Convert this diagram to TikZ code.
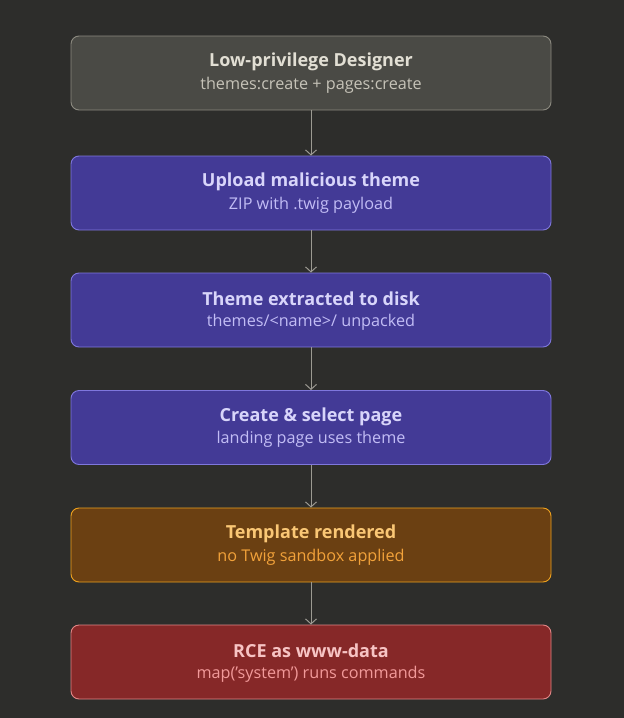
\documentclass[tikz,border=0pt]{standalone}
\usepackage{fontspec}
\setmainfont{Open Sans}
\usetikzlibrary{arrows.meta}
\definecolor{bg}{HTML}{2D2D2B}
\definecolor{gfill}{HTML}{4A4A45}\definecolor{gdraw}{HTML}{8C8A80}\definecolor{gtitle}{HTML}{E2DFD4}\definecolor{gsub}{HTML}{C6C3B8}
\definecolor{pfill}{HTML}{433A96}\definecolor{pdraw}{HTML}{7F77DD}\definecolor{ptitle}{HTML}{D8D5FA}\definecolor{psub}{HTML}{C2BDF5}
\definecolor{ofill}{HTML}{6B4012}\definecolor{odraw}{HTML}{EFA21E}\definecolor{otitle}{HTML}{FAC775}\definecolor{osub}{HTML}{F2A23A}
\definecolor{rfill}{HTML}{862828}\definecolor{rdraw}{HTML}{E28686}\definecolor{rtitle}{HTML}{F7C4C4}\definecolor{rsub}{HTML}{F29A9A}
\definecolor{arr}{HTML}{9C9A92}
\begin{document}
\begin{tikzpicture}[x=1pt,y=-1pt,
  box/.style={rounded corners=8pt,line width=0.9pt,minimum width=480pt,minimum height=74pt,inner sep=0pt},
  gbox/.style={box,fill=gfill,draw=gdraw},
  pbox/.style={box,fill=pfill,draw=pdraw},
  obox/.style={box,fill=ofill,draw=odraw},
  rbox/.style={box,fill=rfill,draw=rdraw},
  ttl/.style={font=\fontsize{18}{21}\selectfont\bfseries},
  sub/.style={font=\fontsize{16.2}{18}\selectfont},
  conn/.style={draw=arr,line width=1pt,-{Straight Barb[length=5pt,width=11pt,line width=1pt]}}]
\fill[bg] (0,0) rectangle (624,718);
\useasboundingbox (0,0) rectangle (624,718);
\node[gbox] (b1) at (311,73) {};
\node[pbox] (b2) at (311,193) {};
\node[pbox] (b3) at (311,310) {};
\node[pbox] (b4) at (311,427.5) {};
\node[obox] (b5) at (311,545) {};
\node[rbox] (b6) at (311,662) {};
\node[ttl,text=gtitle] (t1) at (311,62) {Low-privilege Designer};
\node[sub,text=gsub] (s1) at (311,85) {themes:create + pages:create};
\node[ttl,text=ptitle] (t2) at (311,182) {Upload malicious theme};
\node[sub,text=psub] (s2) at (311,205) {ZIP with .twig payload};
\node[ttl,text=ptitle] (t3) at (311,299) {Theme extracted to disk};
\node[sub,text=psub] (s3) at (311,322) {themes/<name>/ unpacked};
\node[ttl,text=ptitle] (t4) at (311,416.5) {Create \& select page};
\node[sub,text=psub] (s4) at (311,439.5) {landing page uses theme};
\node[ttl,text=otitle] (t5) at (311,534) {Template rendered};
\node[sub,text=osub] (s5) at (311,557) {no Twig sandbox applied};
\node[ttl,text=rtitle] (t6) at (311,651) {RCE as www-data};
\node[sub,text=rsub] (s6) at (311,674) {map('system') runs commands};
\draw[conn] (b1.south) -- (b2.north);
\draw[conn] (b2.south) -- (b3.north);
\draw[conn] (b3.south) -- (b4.north);
\draw[conn] (b4.south) -- (b5.north);
\draw[conn] (b5.south) -- (b6.north);
\end{tikzpicture}
\end{document}
